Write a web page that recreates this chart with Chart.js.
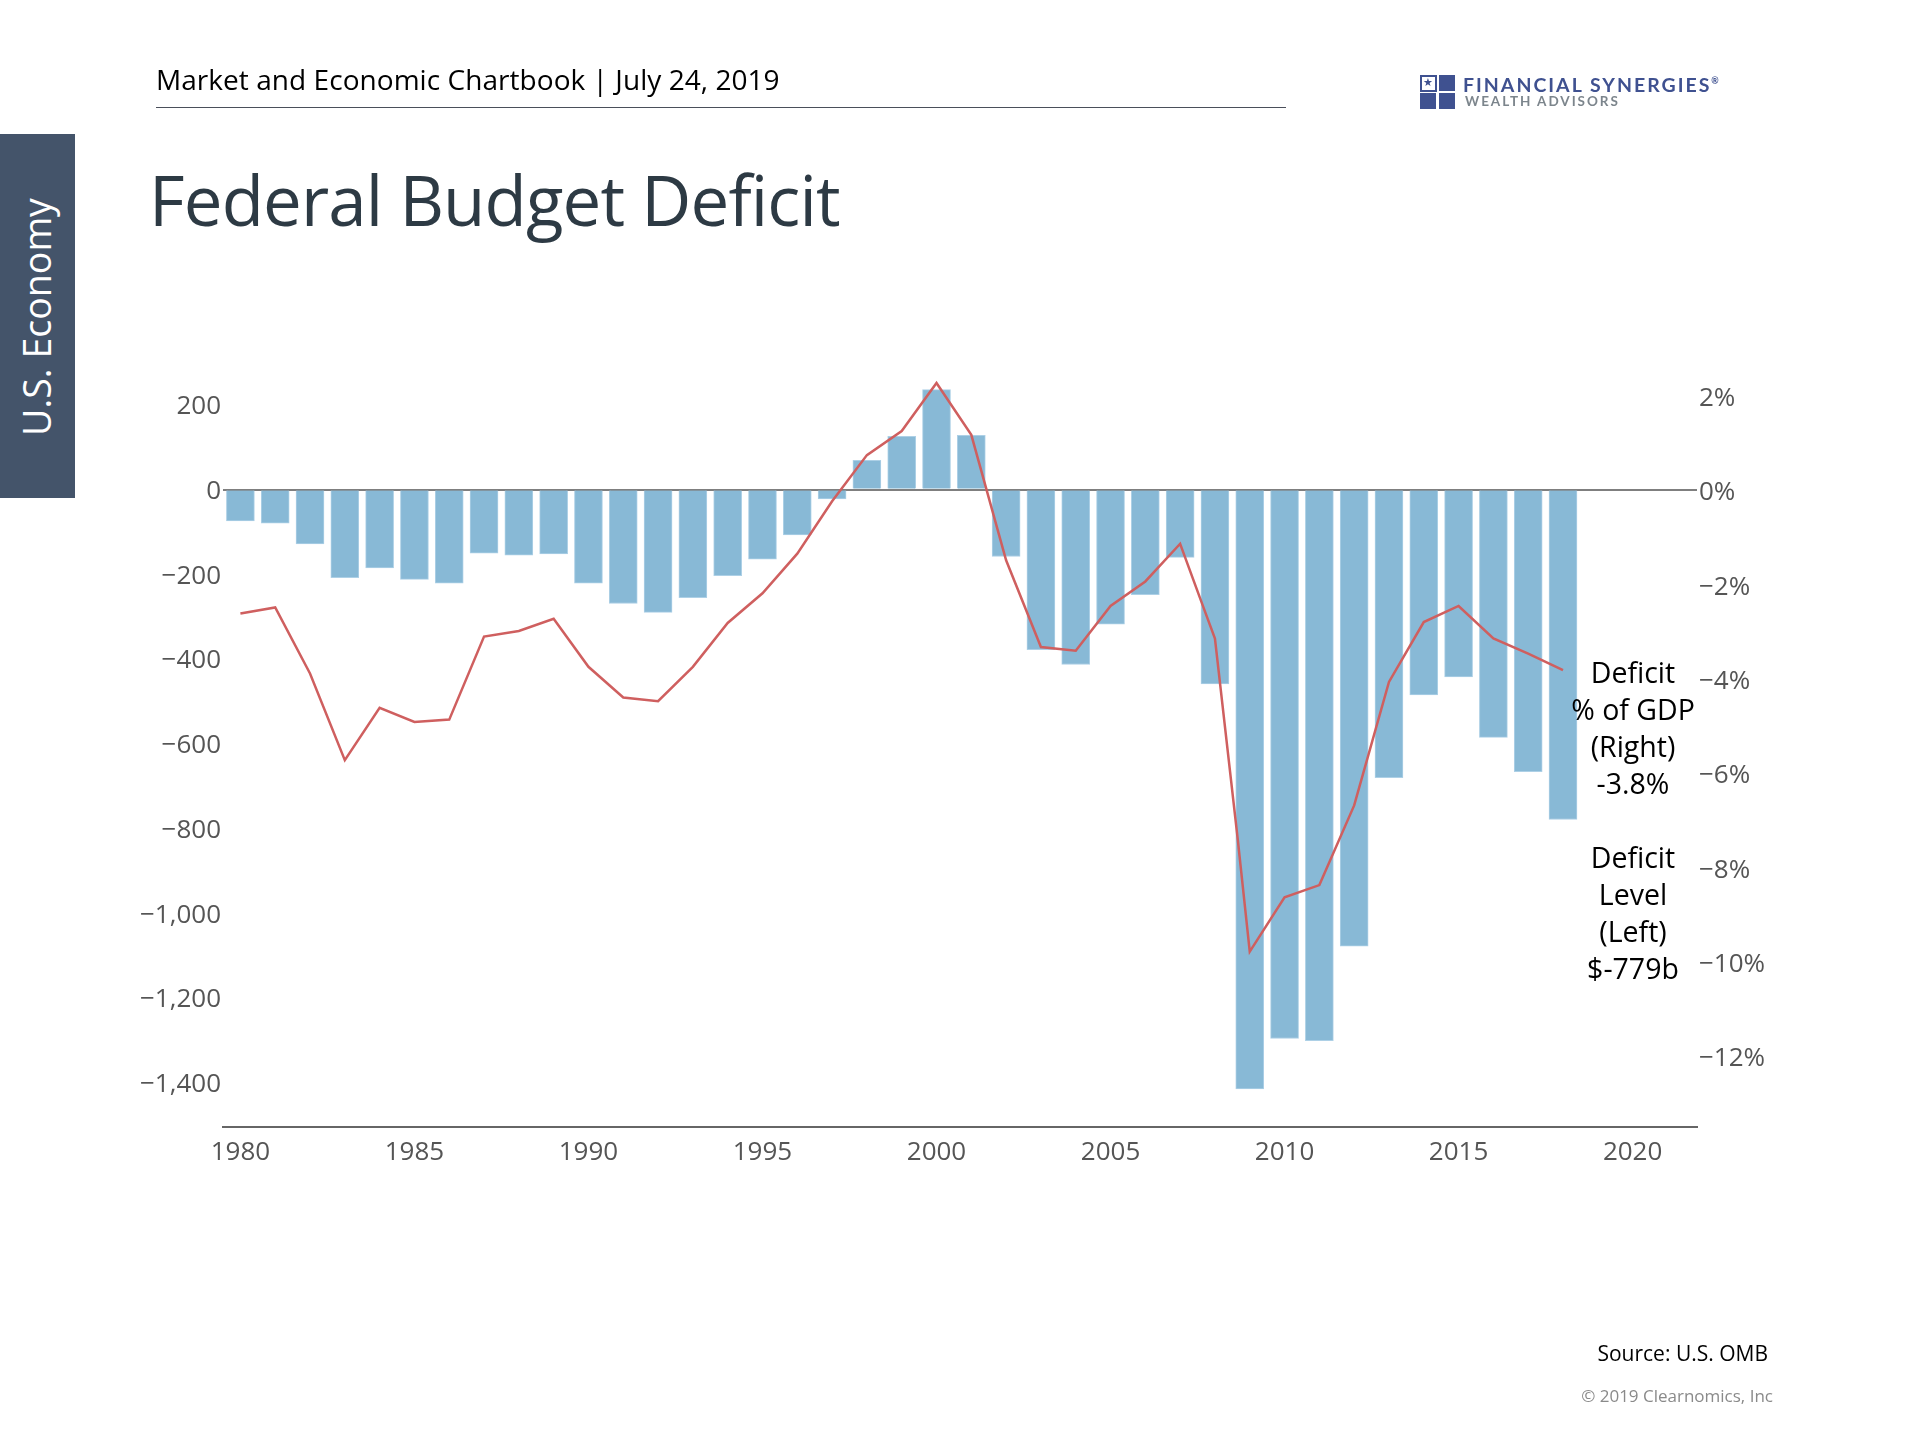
<!DOCTYPE html>
<html>
<head>
<meta charset="utf-8">
<title>Federal Budget Deficit</title>
<script src="https://cdn.jsdelivr.net/npm/chart.js@4"></script>
<style>
    html, body { margin: 0; padding: 0; background: #fff; }
    #page { position: relative; width: 1920px; height: 1440px; overflow: hidden; font-family: "Open Sans", sans-serif; }
    #deficitChart { position: absolute; left: 0; top: 0; }
    #page div { position: absolute; white-space: nowrap; }
    #header { left: 156px; top: 59px; font-size: 28px; line-height: 40px; letter-spacing: 0.05px; color: #000; }
    #rule { left: 156px; top: 107px; width: 1130px; height: 1px; background: #4a4f5a; }
    #sideBar { left: 0; top: 134px; width: 75px; height: 364px; background: #44546a; }
    #sideText { left: 37px; top: 317px; font-size: 37.5px; line-height: 40px; color: #fff; transform: translate(-50%, -50%) rotate(-90deg); }
    #title { left: 149px; top: 152px; font-size: 69px; line-height: 94px; letter-spacing: -0.85px; color: #2d3a44; }
    .square { background: #3f5190; width: 16px; height: 16px; }
    #logoStar { left: 1423px; top: 75px; font-size: 11px; line-height: 14px; color: #3f5190; }
    #logoName { left: 1463px; top: 69px; font-size: 19.5px; line-height: 24px; font-weight: 700; letter-spacing: 2px; color: #3f5190; font-family: "Lato", sans-serif; }
    #logoSub { left: 1465px; top: 92px; font-size: 13.5px; line-height: 18px; font-weight: 700; letter-spacing: 1.95px; color: #7c858c; font-family: "Lato", sans-serif; }
    .note { left: 1532px; width: 202px; text-align: center; font-size: 28.5px; line-height: 37px; color: #000; }
    #source { right: 152px; top: 1338px; font-size: 21px; line-height: 30px; color: #000; }
    #copyright { right: 147px; top: 1384px; font-size: 17px; line-height: 24px; color: #8a8a8a; }
</style>
</head>
<body>
<div id="page">
    <canvas id="deficitChart" width="1920" height="1440"></canvas>
    <div id="header">Market and Economic Chartbook | July 24, 2019</div>
    <div id="rule"></div>
    <div id="sideBar"></div>
    <div id="sideText">U.S. Economy</div>
    <div id="title">Federal Budget Deficit</div>
    <div class="square" style="left:1420px;top:75px;background:#fff;border:2px solid #3f5190;width:13px;height:13px"></div>
    <div id="logoStar">★</div>
    <div class="square" style="left:1439px;top:75px"></div>
    <div class="square" style="left:1420px;top:93px"></div>
    <div class="square" style="left:1439px;top:93px"></div>
    <div id="logoName">FINANCIAL SYNERGIES<span style="font-size:9px;vertical-align:super">®</span></div>
    <div id="logoSub">WEALTH ADVISORS</div>
    <div class="note" id="noteRight" style="top:654px"></div>
    <div class="note" id="noteLeft" style="top:839px"></div>
    <div id="source">Source: U.S. OMB</div>
    <div id="copyright">© 2019 Clearnomics, Inc</div>
</div>
<script>
    // Deficit level in $ billions
    var years = [1980, 1981, 1982, 1983, 1984, 1985, 1986, 1987, 1988, 1989,
        1990, 1991, 1992, 1993, 1994, 1995, 1996, 1997, 1998, 1999,
        2000, 2001, 2002, 2003, 2004, 2005, 2006, 2007, 2008, 2009,
        2010, 2011, 2012, 2013, 2014, 2015, 2016, 2017, 2018];
    var deficitLevel = [-74, -79, -128, -208, -185, -212, -221, -150, -155, -152,
        -221, -269, -290, -255, -203, -164, -107, -22, 69, 126,
        236, 128, -158, -378, -413, -318, -248, -160, -459, -1415,
        -1296, -1301, -1078, -680, -485, -442, -585, -666, -779];

    // Deficit as % of GDP (two extra bends in 2007/2008)
    var gdpYears = [1980, 1981, 1982, 1983, 1984, 1985, 1986, 1987, 1988, 1989,
        1990, 1991, 1992, 1993, 1994, 1995, 1996, 1997, 1998, 1999,
        2000, 2001, 2002, 2003, 2004, 2005, 2006, 2007, 2007.63, 2008, 2008.66, 2009,
        2010, 2011, 2012, 2013, 2014, 2015, 2016, 2017, 2018];
    var deficitGdp = [-2.63, -2.5, -3.9, -5.74, -4.63, -4.93, -4.88, -3.12, -3.0, -2.74,
        -3.76, -4.41, -4.49, -3.76, -2.83, -2.2, -1.36, -0.25, 0.73, 1.24,
        2.26, 1.16, -1.5, -3.34, -3.42, -2.47, -1.95, -1.15, -2.42, -3.16, -7.45, -9.8,
        -8.65, -8.39, -6.7, -4.08, -2.81, -2.47, -3.16, -3.48, -3.83];

    var xTicks = [1980, 1985, 1990, 1995, 2000, 2005, 2010, 2015, 2020];
    var leftTicks = [200, 0, -200, -400, -600, -800, -1000, -1200, -1400];
    var rightTicks = [2, 0, -2, -4, -6, -8, -10, -12];

    var noteRightLines = ['Deficit', '% of GDP', '(Right)', '-3.8%'];
    var noteLeftLines = ['Deficit', 'Level', '(Left)', '$-779b'];

    document.getElementById('noteRight').innerHTML = noteRightLines.join('<br>');
    document.getElementById('noteLeft').innerHTML = noteLeftLines.join('<br>');

    var tickFont = { family: '"Open Sans", sans-serif', size: 26 };
    var tickColor = '#555555';

    function setTicks(list) {
        return function (scale) {
            scale.ticks = list.map(function (v) { return { value: v }; });
        };
    }

    function toXY(xs, ys) {
        return xs.map(function (x, i) { return { x: x, y: ys[i] }; });
    }

    new Chart(document.getElementById('deficitChart').getContext('2d'), {
        type: 'bar',
        data: {
            datasets: [{
                type: 'line',
                label: 'Deficit % of GDP',
                data: toXY(gdpYears, deficitGdp),
                yAxisID: 'y2',
                borderColor: '#cf5f5f',
                borderWidth: 2.5,
                pointRadius: 0,
                tension: 0,
                order: 1
            }, {
                label: 'Deficit Level',
                data: toXY(years, deficitLevel),
                yAxisID: 'y',
                backgroundColor: '#88b9d6',
                borderColor: '#add0e6',
                borderWidth: 1,
                barThickness: 28,
                order: 2
            }]
        },
        options: {
            responsive: false,
            animation: false,
            devicePixelRatio: 1,
            layout: { padding: { top: 360 } },
            plugins: { legend: { display: false }, tooltip: { enabled: false } },
            scales: {
                x: {
                    type: 'linear',
                    offset: false,
                    min: 1979.5,
                    max: 2021.85,
                    afterBuildTicks: setTicks(xTicks),
                    afterFit: function (scale) { scale.height = 313; },
                    border: { color: '#666666', width: 2 },
                    grid: { display: false, offset: false, drawTicks: false },
                    ticks: {
                        font: tickFont,
                        color: tickColor,
                        padding: 10,
                        maxRotation: 0,
                        autoSkip: false,
                        callback: function (v) { return String(v); }
                    }
                },
                y: {
                    position: 'left',
                    min: -1505,
                    max: 306,
                    afterBuildTicks: setTicks(leftTicks),
                    afterFit: function (scale) { scale.width = 223; },
                    border: { display: false },
                    grid: {
                        drawTicks: false,
                        lineWidth: 2,
                        color: function (ctx) { return ctx.tick && ctx.tick.value === 0 ? '#7f7f7f' : 'rgba(0,0,0,0)'; }
                    },
                    ticks: {
                        font: tickFont,
                        color: tickColor,
                        padding: 2,
                        labelOffset: 2,
                        autoSkip: false,
                        callback: function (v) { return (v < 0 ? '\u2212' : '') + Math.abs(v).toLocaleString('en-US'); }
                    }
                },
                y2: {
                    position: 'right',
                    min: -13.52,
                    max: 2.747,
                    afterBuildTicks: setTicks(rightTicks),
                    afterFit: function (scale) { scale.width = 223; },
                    border: { display: false },
                    grid: { display: false, drawOnChartArea: false, drawTicks: false },
                    ticks: {
                        font: tickFont,
                        color: tickColor,
                        padding: 2,
                        labelOffset: 3.5,
                        autoSkip: false,
                        callback: function (v) { return (v < 0 ? '\u2212' : '') + Math.abs(v) + '%'; }
                    }
                }
            }
        }
    });
</script>
</body>
</html>
